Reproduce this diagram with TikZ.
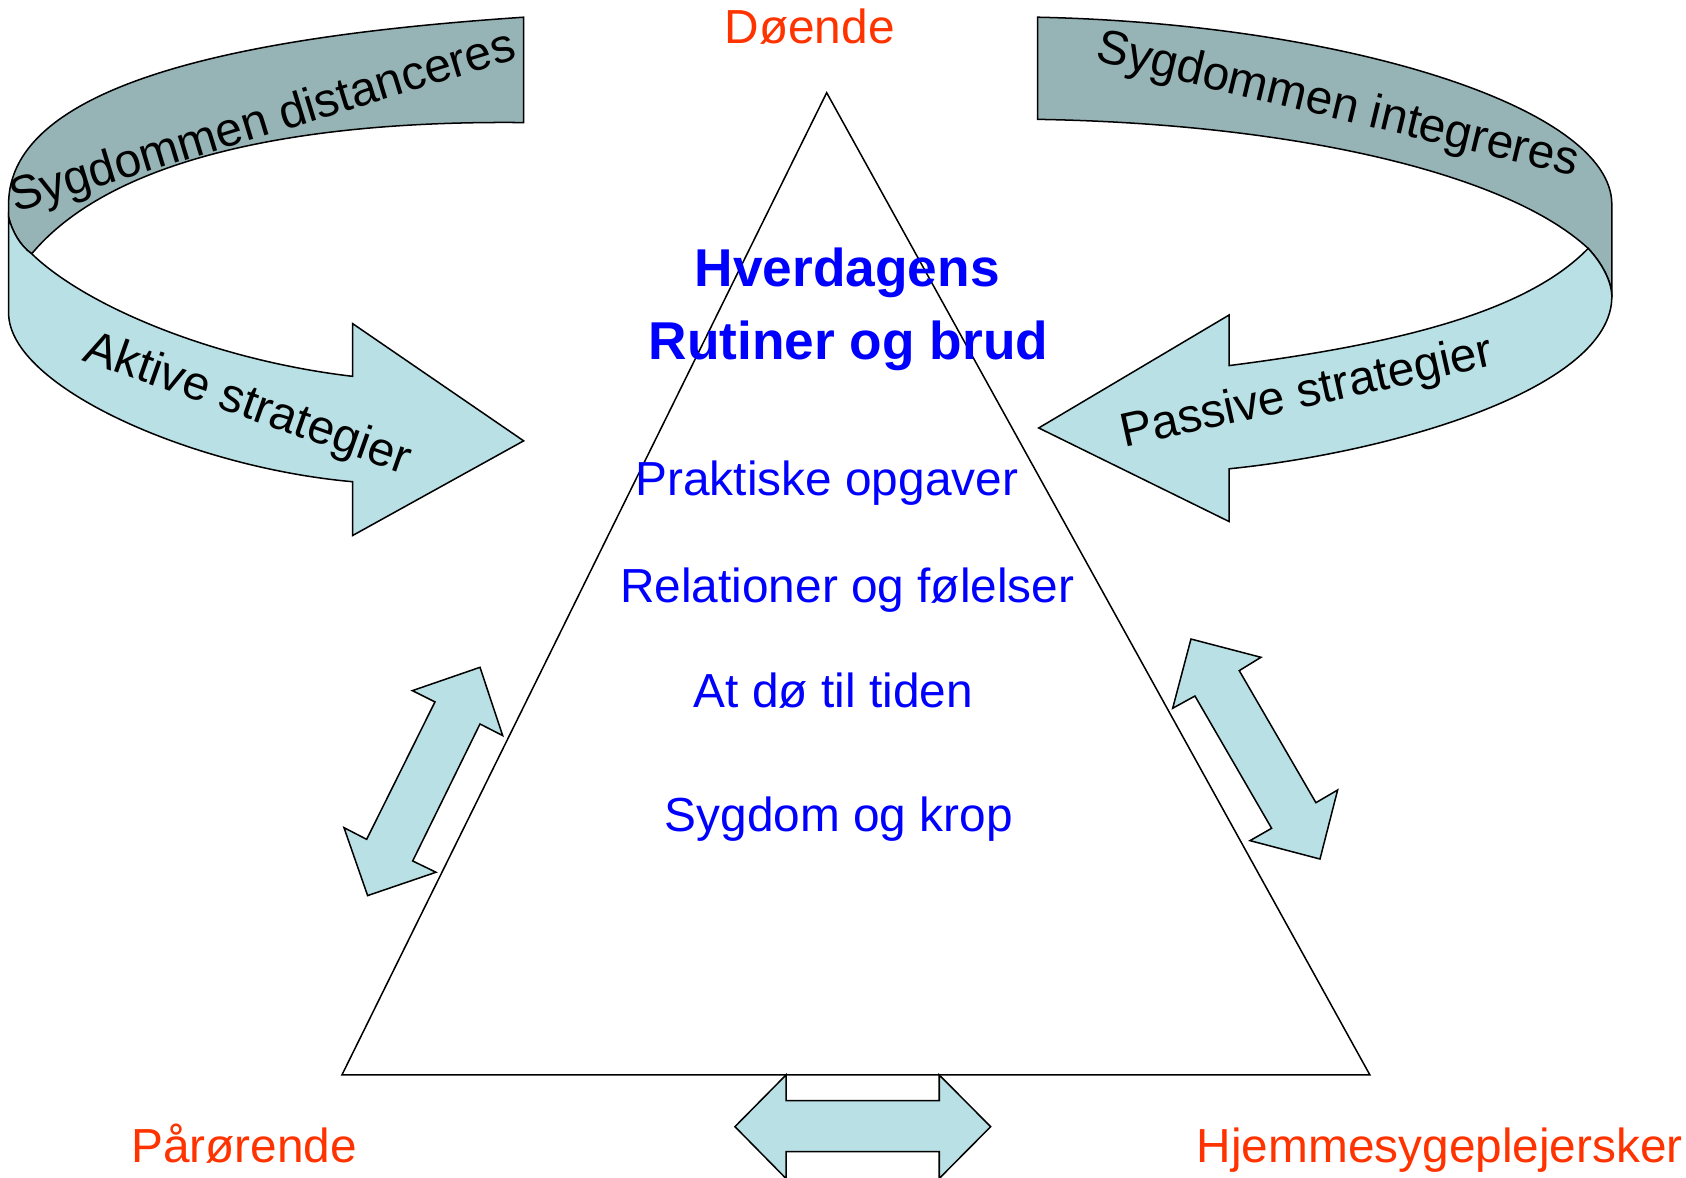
\documentclass[tikz,border=0pt]{standalone}
\usepackage{fontspec}
\setmainfont{Liberation Sans}
\definecolor{bandback}{RGB}{150,179,182}
\definecolor{bandfront}{RGB}{185,224,228}
\definecolor{actorred}{RGB}{255,51,0}
\tikzset{
  outline/.style={draw=black, line width=0.8pt, line join=miter},
  backband/.style={outline, fill=bandback},
  frontband/.style={outline, fill=bandfront},
  txt/.style={inner sep=0pt, anchor=base, font=\fontsize{25.3}{30}\selectfont},
  level/.style={txt, text=blue},
  title/.style={txt, text=blue, font=\fontsize{28.2}{33}\selectfont\bfseries},
  actor/.style={txt, text=actorred},
  bandtxt/.style={txt, text=black},
}
\begin{document}
\begin{tikzpicture}[x=0.02cm, y=-0.02cm]
  \useasboundingbox (0,0) rectangle (1568,1095);

  % venstre baand
  \draw[backband] (487,16) .. controls (280,30) and (8,65) .. (8,190) -- (8,202)
        .. controls (11,214) and (18,228) .. (29.5,236)
        .. controls (110,140) and (300,112) .. (487,114) -- cycle;
  \draw[frontband] (8,202) -- (8,291) .. controls (8,360) and (180,435) .. (328,448)
        -- (328,498) -- (487,410) -- (328,301) -- (328,350)
        .. controls (200,335) and (80,285) .. (29.5,236)
        .. controls (18,228) and (11,214) .. (8,202) -- cycle;

  % hoejre baand
  \draw[backband] (965,16) .. controls (1250,22) and (1499,100) .. (1499,190) -- (1499,276)
        .. controls (1499,262) and (1490,245) .. (1477,231)
        .. controls (1400,160) and (1200,115) .. (965,111) -- cycle;
  \draw[frontband] (1477,231) .. controls (1490,245) and (1499,262) .. (1499,276)
        .. controls (1499,360) and (1300,420) .. (1143,436)
        -- (1143,485) -- (966,398) -- (1143,293) -- (1143,340)
        .. controls (1300,320) and (1420,290) .. (1477,231) -- cycle;

  % trekant
  \coordinate (top) at (768.8,86.2);
  \coordinate (left) at (318,999.7);
  \coordinate (right) at (1274,999.7);
  \draw[outline] (top) -- (right) -- (left) -- cycle;

  % dobbeltpile
  \draw[frontband] (446.4,620.6) -- (467.5,684.1) -- (446.4,673.3) -- (383.8,800.7)
        -- (405.5,811.2) -- (341.9,832.9) -- (319.9,769.7) -- (341,780.6)
        -- (404.5,652.8) -- (383.5,642.3) -- cycle;
  \draw[frontband] (1107.6,594.3) -- (1172.7,611.3) -- (1152.5,623.7) -- (1223.8,746.5)
        -- (1244,734.7) -- (1227.6,798.9) -- (1162.5,781.8) -- (1182.6,770.3)
        -- (1111.3,647.3) -- (1090.6,658.7) -- cycle;
  \draw[frontband] (731,999.7) -- (731,1023.6) -- (873.5,1023.6) -- (873.5,999.7)
        -- (921.3,1047.8) -- (873.5,1096) -- (873.5,1071) -- (731,1071)
        -- (731,1096) -- (683.5,1047.8) -- cycle;

  \node[actor] (doende) at (753,40) {Døende};
  \node[actor] (paaroer) at (227,1081) {Pårørende};
  \node[actor] (hjemme) at (1339,1081) {Hjemmesygeplejersker};

  \node[title] (hverdag) at (788,266) {Hverdagens};
  \node[title] (rutiner) at (789,334) {Rutiner og brud};
  \node[level] (praktisk) at (769,461) {Praktiske opgaver};
  \node[level] (relation) at (788,560) {Relationer og følelser};
  \node[level] (doe) at (775,658) {At dø til tiden};
  \node[level] (sygdom) at (780,773) {Sygdom og krop};

  \node[bandtxt, rotate=17] (distance) at (248,126) {Sygdommen distanceres};
  \node[bandtxt, rotate=-19.5] (aktiv) at (226,388) {Aktive strategier};
  \node[bandtxt, rotate=-13.5] (integrer) at (1241,110) {Sygdommen integreres};
  \node[bandtxt, rotate=12.5] (passiv) at (1218,378) {Passive strategier};
\end{tikzpicture}
\end{document}
